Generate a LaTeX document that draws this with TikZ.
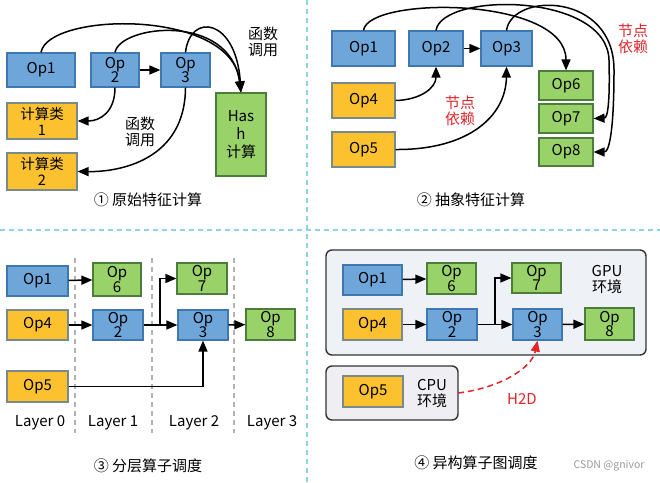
\documentclass[tikz,border=0pt]{standalone}
\usepackage{fontspec}
\setmainfont{Noto Sans CJK SC}
\usetikzlibrary{arrows.meta}
\definecolor{bluef}{HTML}{6EA6DA}
\definecolor{blued}{HTML}{3F78B0}
\definecolor{yelf}{HTML}{FCC12E}
\definecolor{yeld}{HTML}{7A8A8A}
\definecolor{grnf}{HTML}{9AD26A}
\definecolor{grnd}{HTML}{4C7D3A}
\definecolor{sepc}{HTML}{8FD2E0}
\definecolor{envf}{HTML}{EEF2F7}
\definecolor{envf2}{HTML}{EFEEF3}
\definecolor{redc}{HTML}{E0262B}
\begin{document}
\begin{tikzpicture}[x=1pt,y=-1pt,
  box/.style={draw, line width=1.2pt, inner sep=0pt, align=center, font=\fontsize{15}{14.5}\selectfont},
  bbox/.style={box, fill=bluef, draw=blued},
  ybox/.style={box, fill=yelf, draw=yeld},
  gbox/.style={box, fill=grnf, draw=grnd},
  arr/.style={line width=1.5pt, -{Triangle[length=11pt,width=9pt]}},
  lbl/.style={font=\fontsize{15}{16}\selectfont, align=center, inner sep=0pt},
  captxt/.style={font=\fontsize{15}{16}\selectfont, inner sep=0pt},
  env/.style={draw=black!80, line width=1.4pt, rounded corners=6pt}]
\useasboundingbox (0,0) rectangle (660,482);
\fill[white] (0,0) rectangle (660,482);
% separators
\draw[sepc, line width=1.6pt, dash pattern=on 5pt off 4pt] (0,230) -- (660,230);
\draw[sepc, line width=1.6pt, dash pattern=on 5pt off 4pt] (307,0) -- (307,482);

% ---------- panel 1 ----------
\node[bbox, minimum width=68pt, minimum height=34pt] (a1) at (41,70) {Op1};
\node[bbox, minimum width=48pt, minimum height=34pt] (a2) at (115,70) {Op\\2};
\node[bbox, minimum width=49pt, minimum height=34pt] (a3) at (185.5,70) {Op\\3};
\node[gbox, minimum width=50pt, minimum height=83pt, font=\fontsize{15}{18}\selectfont] (ah) at (241,134.5) {Has\\h\\计算};
\node[ybox, minimum width=70pt, minimum height=36pt, font=\fontsize{14.5}{16}\selectfont] (ac1) at (42,121) {计算类\\1};
\node[ybox, minimum width=70pt, minimum height=37pt, font=\fontsize{14.5}{16}\selectfont] (ac2) at (42,171.5) {计算类\\2};
\draw[arr] (a1.north) .. controls (48,12) and (232,8) .. (ah.north);
\draw[arr] (a2.north) .. controls (120,25) and (230,12) .. (ah.north);
\draw[arr] (a3.north) .. controls (190,12) and (236,18) .. (ah.north);
\draw[arr] (a2) -- (a3);
\draw[arr] (a2.south) .. controls (115,112) and (100,121) .. (ac1.east);
\draw[arr] (a3.south) .. controls (185,160) and (120,172) .. (ac2.east);
\node[lbl] (t1) at (263,42) {函数\\调用};
\node[lbl] (t2) at (140,132) {函数\\调用};
\node[captxt] (c1) at (148,200) {① 原始特征计算};

% ---------- panel 2 ----------
\node[bbox, minimum width=63pt, minimum height=35pt] (b1) at (363.5,48.5) {Op1};
\node[bbox, minimum width=54pt, minimum height=35pt] (b2) at (436,48.5) {Op2};
\node[bbox, minimum width=51pt, minimum height=35pt] (b3) at (506.5,48.5) {Op3};
\node[ybox, minimum width=63pt, minimum height=35pt] (b4) at (363.5,100.5) {Op4};
\node[ybox, minimum width=63pt, minimum height=35pt] (b5) at (363.5,149.5) {Op5};
\node[gbox, minimum width=54pt, minimum height=29pt] (b6) at (566,85.5) {Op6};
\node[gbox, minimum width=54pt, minimum height=29pt] (b7) at (566,118.5) {Op7};
\node[gbox, minimum width=54pt, minimum height=28pt] (b8) at (566,152) {Op8};
\draw[arr] (b1.north) .. controls (368,-4) and (566,-4) .. (b6.north);
\draw[arr] (b2.north) .. controls (442,-8) and (607,-8) .. (609,60) .. controls (610,100) and (608,118) .. (b7.east);
\draw[arr] (b3.north) .. controls (512,-8) and (614,-8) .. (614,70) .. controls (614,125) and (610,152) .. (b8.east);
\draw[arr] (b2) -- (b3);
\draw[arr] (b4.east) .. controls (420,100) and (436,88) .. (b2.south);
\draw[arr] (b5.east) .. controls (470,150) and (506,115) .. (b3.south);
\node[lbl, text=redc] (t3) at (633,39) {节点\\依赖};
\node[lbl, text=redc] (t4) at (460,111) {节点\\依赖};
\node[captxt] (c2) at (471,200) {② 抽象特征计算};

% ---------- panel 3 ----------
\draw[gray!60, line width=1.2pt, dash pattern=on 5pt off 4pt] (75,258) -- (75,433);
\draw[gray!60, line width=1.2pt, dash pattern=on 5pt off 4pt] (152,258) -- (152,433);
\draw[gray!60, line width=1.2pt, dash pattern=on 5pt off 4pt] (234,258) -- (234,433);
\node[bbox, minimum width=61pt, minimum height=30pt] (d1) at (37.5,281) {Op1};
\node[gbox, minimum width=48pt, minimum height=33pt] (d6) at (117,279.5) {Op\\6};
\node[ybox, minimum width=61pt, minimum height=30pt] (d4) at (37.5,325) {Op4};
\node[bbox, minimum width=50pt, minimum height=30pt] (d2) at (118,325) {Op\\2};
\node[gbox, minimum width=50pt, minimum height=31pt] (d7) at (202,278.5) {Op\\7};
\node[bbox, minimum width=50pt, minimum height=30pt] (d3) at (203,325) {Op\\3};
\node[gbox, minimum width=49pt, minimum height=31pt] (d8) at (270.5,324.5) {Op\\8};
\node[ybox, minimum width=61pt, minimum height=31pt] (d5) at (37.5,386.5) {Op5};
\coordinate (dk) at (160,325);
\coordinate (dm) at (203,386.5);
\draw[arr] (d1) -- (d6);
\draw[arr] (d4) -- (d2);
\draw[arr] (d2) -- (d3);
\draw[arr] (dk) |- (d7.west);
\draw[arr] (d3) -- (d8);
\draw[arr] (d5.east) -- (dm) -- (d3.south);
\node[lbl] (l0) at (40,423) {Layer 0};
\node[lbl] (l1) at (113,423) {Layer 1};
\node[lbl] (l2) at (194,423) {Layer 2};
\node[lbl] (l3) at (272,423) {Layer 3};
\node[captxt] (c3) at (148,466) {③ 分层算子调度};

% ---------- panel 4 ----------
\draw[env, fill=envf] (326,250) rectangle (646,355);
\draw[env, fill=envf2] (326,366) rectangle (458,420);
\coordinate (cpuE) at (458,393);
\node[bbox, minimum width=59pt, minimum height=30pt] (e1) at (372.5,280) {Op1};
\node[gbox, minimum width=49pt, minimum height=31pt] (e6) at (451.5,278.5) {Op\\6};
\node[gbox, minimum width=49pt, minimum height=30pt] (e7) at (536.5,278) {Op\\7};
\node[ybox, minimum width=59pt, minimum height=31pt] (e4) at (372.5,324.5) {Op4};
\node[bbox, minimum width=50pt, minimum height=31pt] (e2) at (452,324.5) {Op\\2};
\node[bbox, minimum width=49pt, minimum height=31pt] (e3) at (537.5,324.5) {Op\\3};
\node[gbox, minimum width=49pt, minimum height=32pt] (e8) at (609.5,324) {Op\\8};
\node[ybox, minimum width=60pt, minimum height=31pt] (e5) at (373,391.5) {Op5};
\node[lbl] (tg) at (607,280) {GPU\\环境};
\node[lbl] (tc) at (432,394) {CPU\\环境};
\coordinate (ek) at (495,324.5);
\draw[arr] (e1) -- (e6);
\draw[arr] (e4) -- (e2);
\draw[arr] (e2) -- (e3);
\draw[arr] (ek) |- (e7.west);
\draw[arr] (e3) -- (e8);
\draw[line width=1.5pt, redc, dash pattern=on 6pt off 4pt, -{Triangle[length=11pt,width=9pt]}] (cpuE) .. controls (500,388) and (532,368) .. (e3.south);
\node[lbl, text=redc] (th) at (522,399) {H2D};
\node[captxt] (c4) at (476,463) {④ 异构算子图调度};
\node[font=\fontsize{10.5}{12}\selectfont, text=gray!80, inner sep=0pt] (wm) at (609,466) {CSDN @gnivor};
\end{tikzpicture}
\end{document}
